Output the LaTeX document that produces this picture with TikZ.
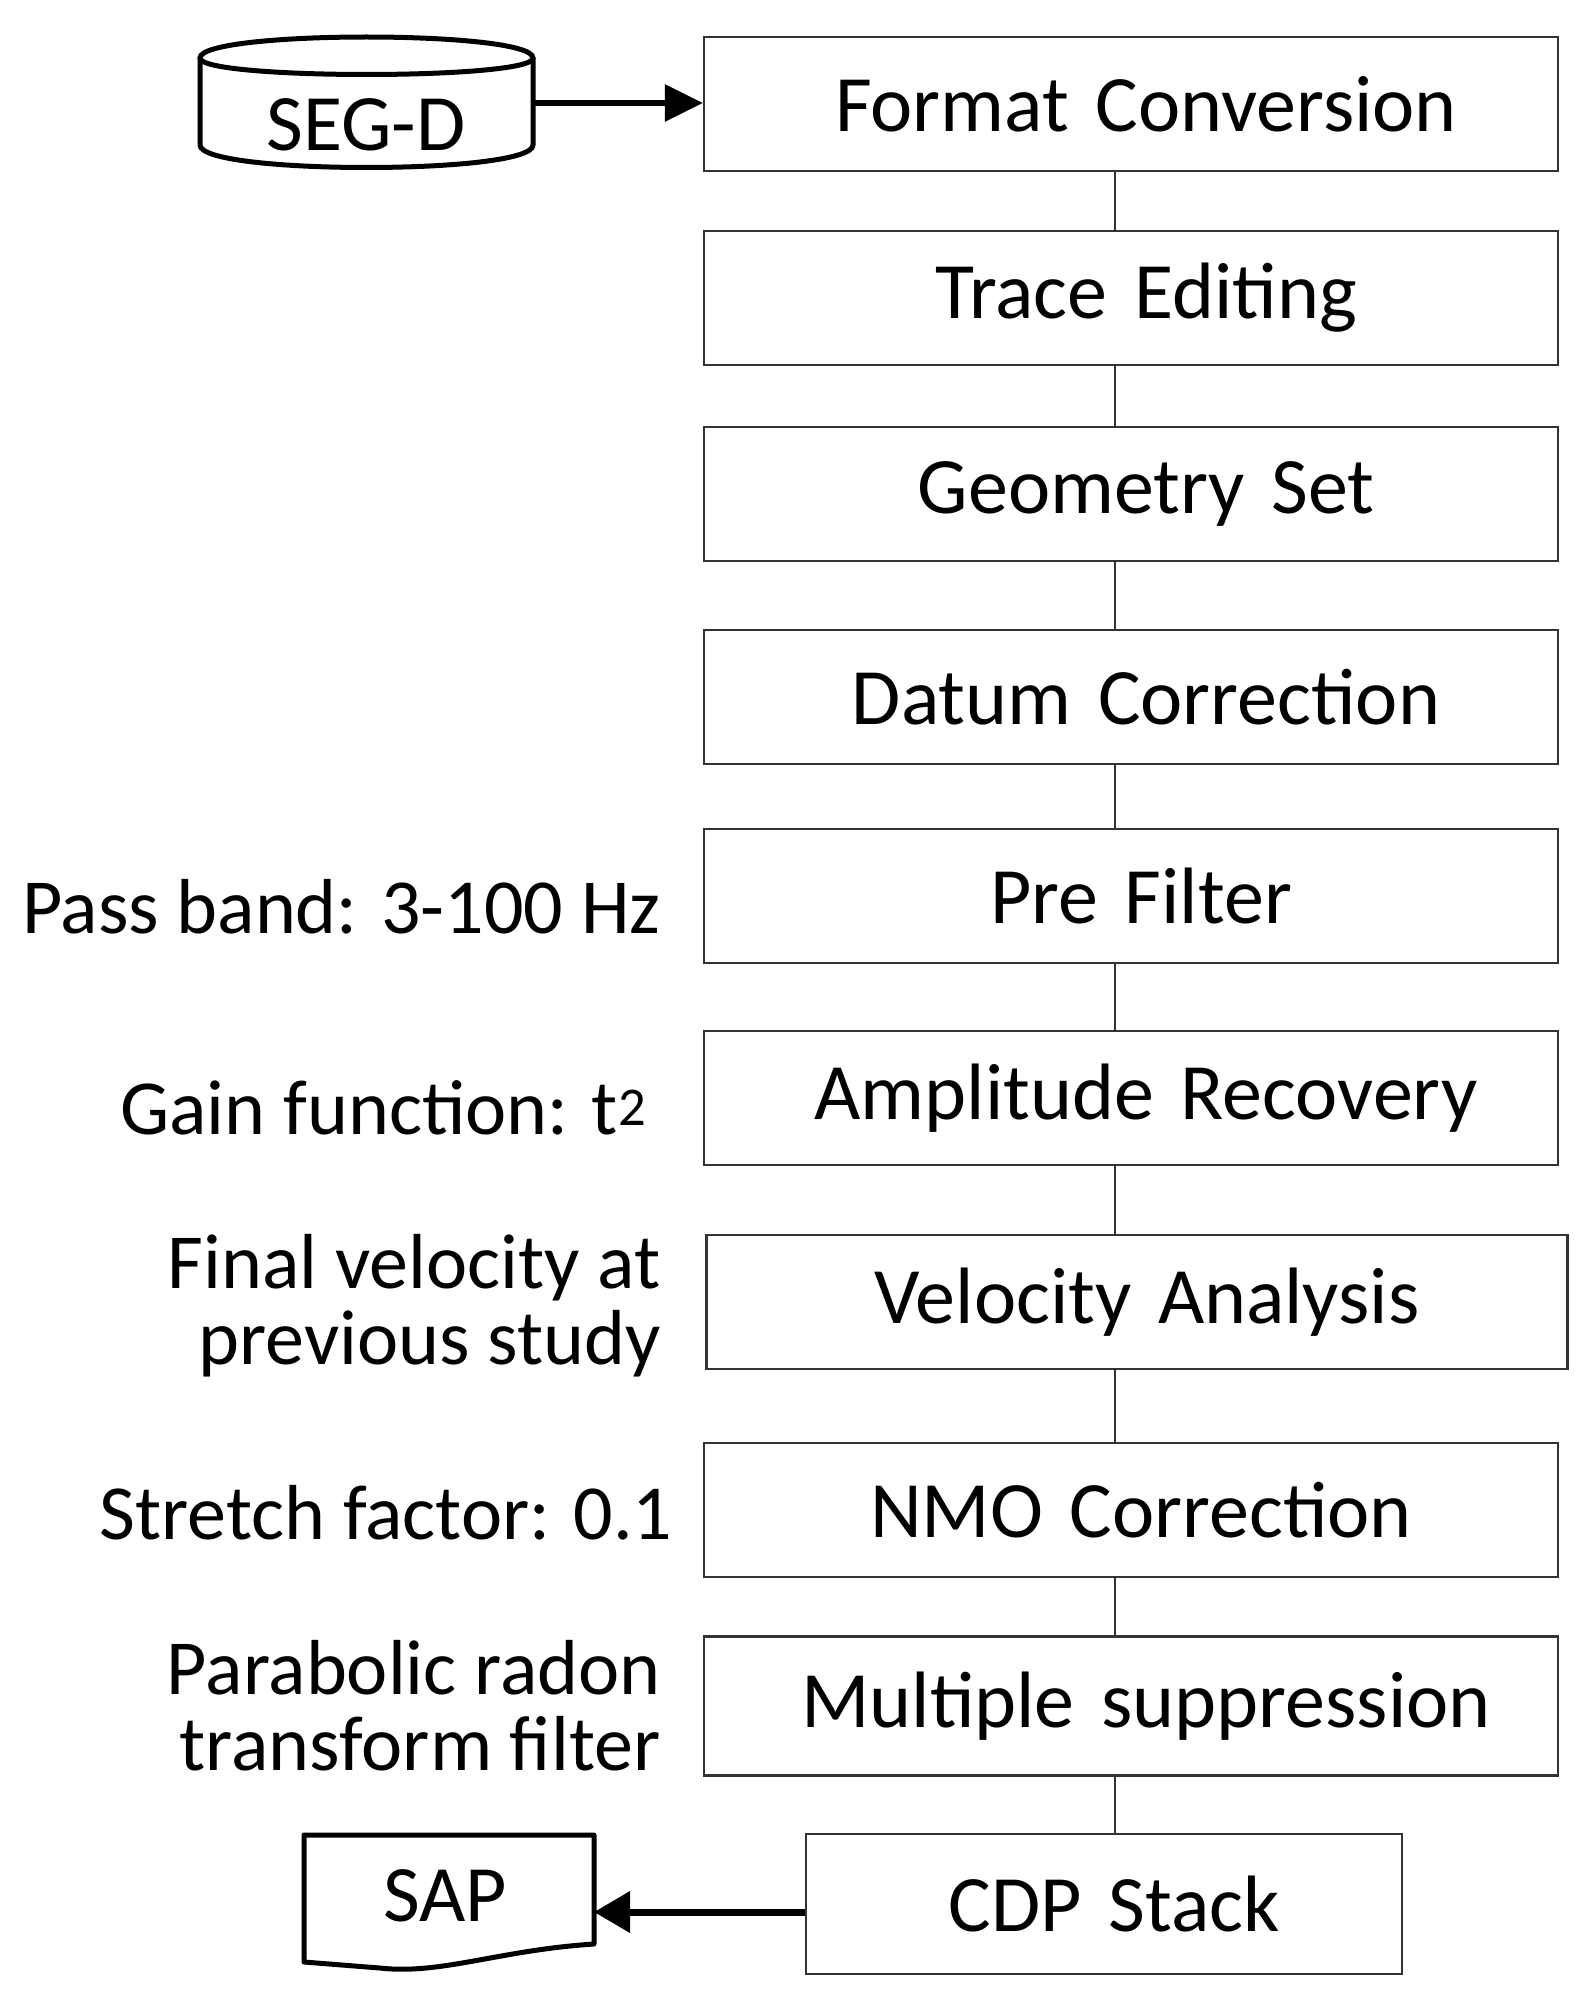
\documentclass[tikz,border=0pt]{standalone}
\usepackage{fontspec}
\setmainfont{Carlito}
\usetikzlibrary{arrows.meta}
\begin{document}
\begin{tikzpicture}[x=1pt,y=-1pt,
 box/.style={draw=black!80,line width=2.2pt,minimum width=854pt,minimum height=134pt,font=\fontsize{80}{84}\selectfont,text width=830pt,align=center},
 lab/.style={anchor=east,align=right,font=\fontsize{78}{76}\selectfont},
 thick line/.style={line width=5pt}]
\useasboundingbox (0,0) rectangle (1584,1999);
\node[box] (b1) at (1131,104) {\hspace*{30pt}Format Conversion};
\node[box] (b2) at (1131,298) {\hspace*{30pt}Trace Editing};
\node[box] (b3) at (1131,494) {\hspace*{30pt}Geometry Set};
\node[box] (b4) at (1131,697) {\hspace*{30pt}Datum Correction};
\node[box] (b5) at (1131,896) {\hspace*{20pt}Pre Filter};
\node[box] (b6) at (1131,1098) {\hspace*{30pt}Amplitude Recovery};
\node[box,minimum width=861pt] (b7) at (1137,1302) {\hspace*{20pt}Velocity Analysis};
\node[box] (b8) at (1131,1510) {\hspace*{20pt}NMO Correction};
\node[box,minimum height=139pt] (b9) at (1131,1706) {\hspace*{30pt}Multiple suppression};
\node[box,minimum width=596pt,minimum height=140pt,text width=570pt] (b10) at (1104,1904) {\hspace*{20pt}CDP Stack};
\foreach \a/\b in {b1/b2,b2/b3,b3/b4,b4/b5,b5/b6,b6/b7,b7/b8,b8/b9,b9/b10}
  \draw[line width=2.2pt,black!80] (\a.south -| 1115,0) -- (\b.north -| 1115,0);
% SEG-D cylinder
\draw[thick line] (200,58) .. controls (200,30) and (533,30) .. (533,58)
  .. controls (533,80) and (200,80) .. (200,58) -- cycle;
\draw[thick line] (200,58) -- (200,145) .. controls (200,175) and (533,175) .. (533,145) -- (533,58);
\node[font=\fontsize{80}{84}\selectfont] (segd) at (366,125) {SEG-D};
\coordinate (segdE) at (533,103);
\draw[line width=6pt,-{Triangle[length=38pt,width=36pt]}] (segdE) -- (b1.west |- segdE);
% SAP document
\draw[thick line,line join=round] (304,1835) -- (594,1835) -- (594,1944)
  .. controls (500,1950) and (440,1975) .. (380,1968) -- (304,1962) -- cycle;
\node[font=\fontsize{80}{84}\selectfont] (sap) at (445,1896) {SAP};
\coordinate (sapE) at (594,1912);
\draw[line width=7pt,-{Triangle[length=36pt,width=40pt]}] (b10.west |- sapE) -- (sapE);
% labels
\node[lab] (l1) at (664,907) {Pass band: 3-100 Hz};
\node[lab] (l2) at (650,1108) {Gain function: t\textsuperscript{2}};
\node[lab] (l3) at (664,1306) {Final velocity at\\previous study};
\node[lab] (l4) at (676,1513) {Stretch factor: 0.1};
\node[lab] (l5) at (664,1706) {Parabolic radon\\transform filter};
\end{tikzpicture}
\end{document}
